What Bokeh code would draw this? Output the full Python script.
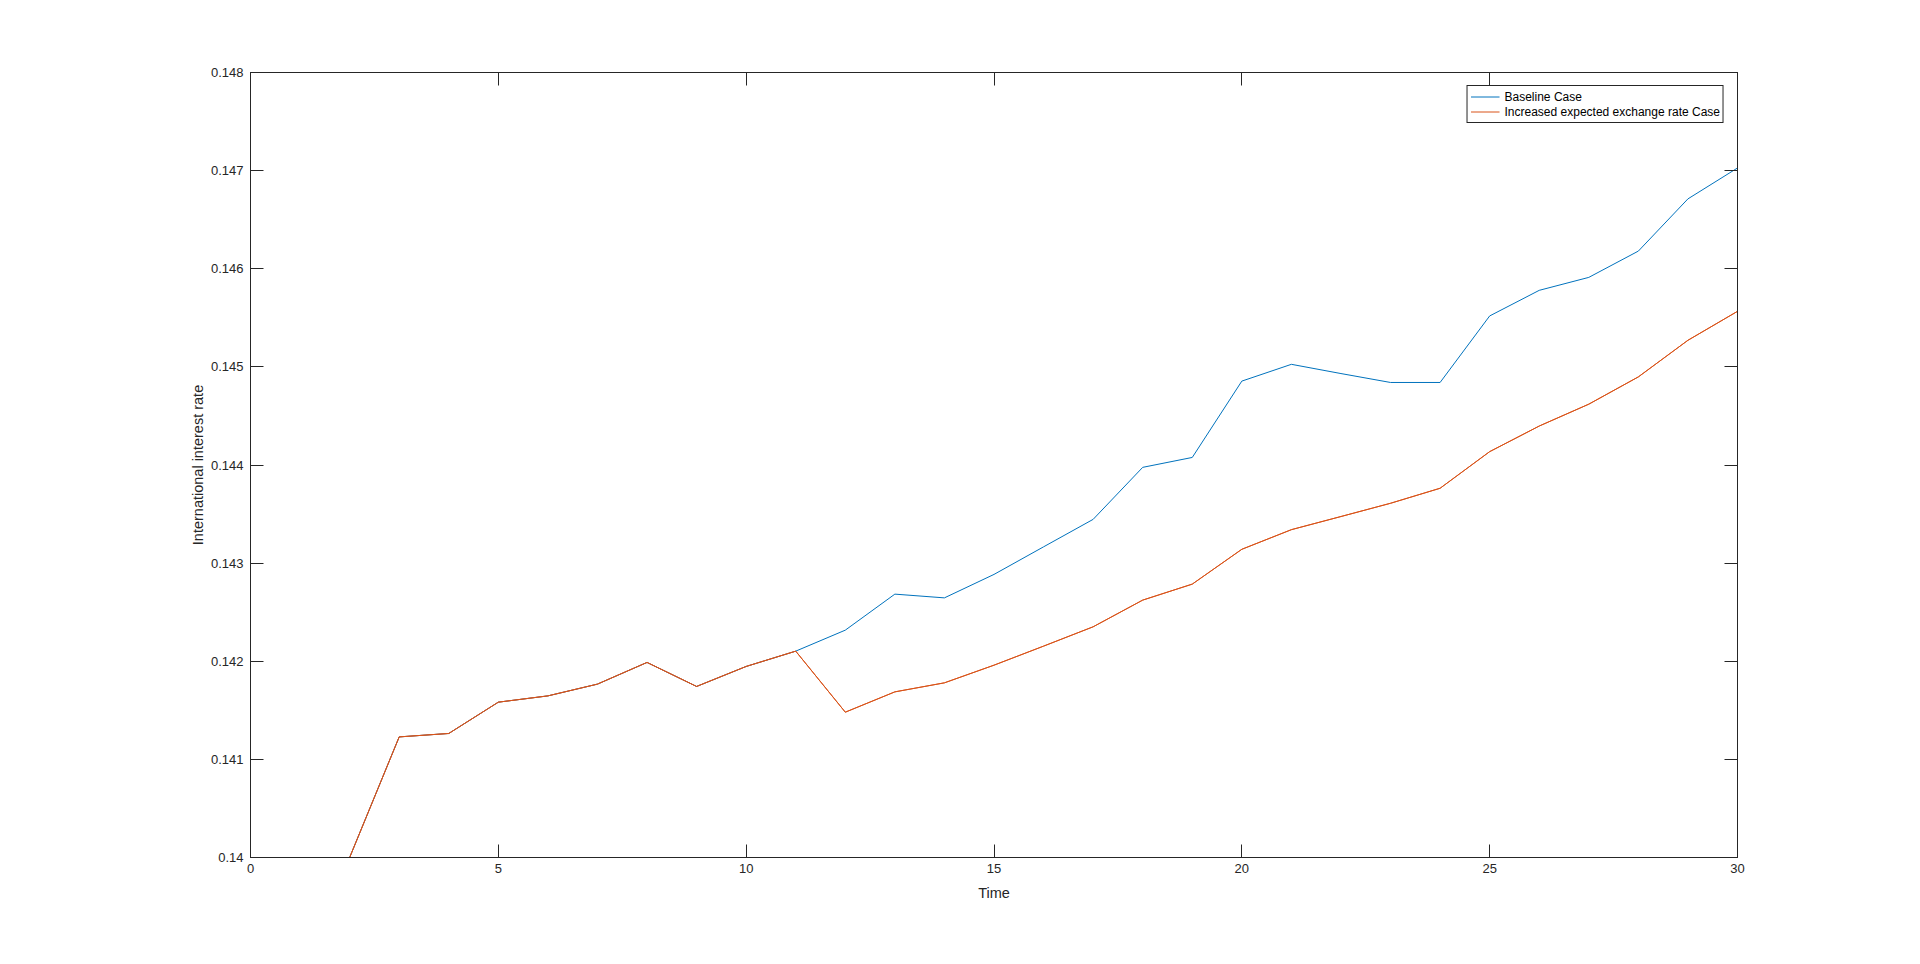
from bokeh.plotting import figure
from bokeh.models import (Range1d, LinearAxis, FixedTicker, NumeralTickFormatter,
                          Legend, LegendItem, ColumnDataSource)
from bokeh.embed import file_html
from bokeh.resources import INLINE

# ---- data ----
time = list(range(0, 31))
baseline = [0.14000, 0.14000, 0.14000, 0.141229, 0.141264, 0.141583, 0.141647,
            0.141767, 0.141988, 0.141743, 0.141947, 0.142103, 0.142317, 0.142684,
            0.142646, 0.142885, 0.143166, 0.143446, 0.143976, 0.144077, 0.144855,
            0.145026, 0.144932, 0.144841, 0.144841, 0.145519, 0.145780, 0.145912,
            0.146180, 0.146712, 0.147027]
increased = [0.14000, 0.14000, 0.14000, 0.141229, 0.141264, 0.141583, 0.141647,
             0.141767, 0.141988, 0.141743, 0.141947, 0.142103, 0.141481, 0.141688,
             0.141780, 0.141960, 0.142154, 0.142351, 0.142623, 0.142786, 0.143141,
             0.143341, 0.143475, 0.143610, 0.143763, 0.144136, 0.144397, 0.144620,
             0.144898, 0.145271, 0.145566]
x_ticks = [0, 5, 10, 15, 20, 25, 30]
y_ticks = [0.140, 0.141, 0.142, 0.143, 0.144, 0.145, 0.146, 0.147, 0.148]
series_names = ["Baseline Case", "Increased expected exchange rate Case"]
series_colors = ["#0072BD", "#D95319"]

FONT = "Liberation Sans"
TXT = "#262626"

p = figure(width=1904, height=948, output_backend="svg", toolbar_location=None,
           x_range=Range1d(0, 30), y_range=Range1d(0.140, 0.148),
           min_border_left=250, min_border_right=167, min_border_top=72,
           min_border_bottom=91, x_axis_label="Time",
           y_axis_label="International interest rate")
p.background_fill_color = "white"
p.border_fill_color = "white"
p.outline_line_color = TXT
p.outline_line_width = 1
p.xgrid.visible = False
p.ygrid.visible = False

src = ColumnDataSource(dict(t=time, b=baseline, i=increased))
r1 = p.line("t", "b", source=src, line_color=series_colors[0], line_width=1)
r2 = p.line("t", "i", source=src, line_color=series_colors[1], line_width=1)
# second pass so the orange fully covers the baseline where they coincide
p.line("t", "i", source=src, line_color=series_colors[1], line_width=1)


def style_axis(ax, show_labels=True):
    ax.axis_line_color = TXT
    ax.major_tick_line_color = TXT
    ax.major_tick_in = 13
    ax.major_tick_out = 0
    ax.minor_tick_line_color = None
    ax.major_label_text_font = FONT
    ax.major_label_text_font_size = "13px"
    ax.major_label_text_color = TXT
    ax.axis_label_text_font = FONT
    ax.axis_label_text_font_size = "14.5px"
    ax.axis_label_text_font_style = "normal"
    ax.axis_label_text_color = TXT
    if not show_labels:
        ax.major_label_text_color = None


xax = p.xaxis[0]
yax = p.yaxis[0]
xax.ticker = FixedTicker(ticks=x_ticks)
yax.ticker = FixedTicker(ticks=y_ticks)
yax.formatter = NumeralTickFormatter(format="0.[000]")
style_axis(xax)
style_axis(yax)
xax.major_label_standoff = 6
xax.axis_label_standoff = 9
yax.major_label_standoff = 7
yax.axis_label_standoff = 2

top = LinearAxis(ticker=FixedTicker(ticks=x_ticks))
right = LinearAxis(ticker=FixedTicker(ticks=y_ticks))
style_axis(top, False)
style_axis(right, False)
p.add_layout(top, "above")
p.add_layout(right, "right")

legend = Legend(items=[LegendItem(label=series_names[0], renderers=[r1]),
                       LegendItem(label=series_names[1], renderers=[r2])],
                location="top_right", margin=13, padding=3, spacing=0,
                glyph_width=29, glyph_height=15, label_height=15,
                label_standoff=5, label_text_font=FONT,
                label_text_font_size="12px", label_text_color="black",
                border_line_color=TXT, border_line_width=1, border_line_alpha=1,
                background_fill_color="white", background_fill_alpha=1)
p.add_layout(legend)

open("out.html", "w").write(file_html(p, INLINE))
